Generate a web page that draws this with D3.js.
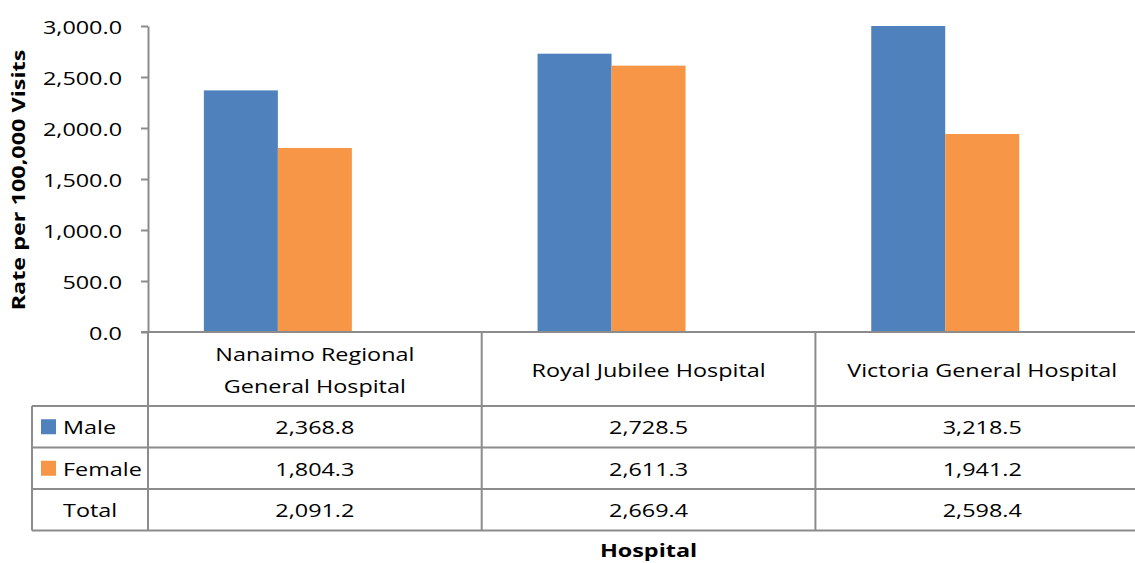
<!DOCTYPE html>
<html>
<head>
<meta charset="utf-8">
<script src="https://cdn.jsdelivr.net/npm/d3@7"></script>
<style>
  html, body { margin: 0; padding: 0; background: #fff; }
  svg { display: block; }
  text { font-family: "Open Sans", sans-serif; fill: #000; }
</style>
</head>
<body>
<svg id="chart" width="1135" height="563"></svg>
<script>
// ---- data ----
const categories = ["Nanaimo Regional General Hospital", "Royal Jubilee Hospital", "Victoria General Hospital"];
const categoryLines = [["Nanaimo Regional", "General Hospital"], ["Royal Jubilee Hospital"], ["Victoria General Hospital"]];
const seriesNames = ["Male", "Female", "Total"];
const maleValues = [2368.8, 2728.5, 3218.5];
const femaleValues = [1804.3, 2611.3, 1941.2];
const totalValues = [2091.2, 2669.4, 2598.4];
const yTicks = [0, 500, 1000, 1500, 2000, 2500, 3000];
const yTitle = "Rate per 100,000 Visits";
const xTitle = "Hospital";

// ---- style / layout ----
const colors = { Male: "#4F81BD", Female: "#F79646" };
const lineColor = "#8c8c8c";
const lineW = 2;
const SX = 1.3;           // horizontal text stretch
const fontSize = 18;

const plotLeft = 148, plotTop = 26, plotBottom = 332;
const step = 333.7;
const tableLeft = 32;
const rowEdges = [332, 406, 447.5, 489, 530.5]; // header, Male, Female, Total

const svg = d3.select("#chart");

const x0 = d3.scaleBand().domain(categories)
  .range([plotLeft, plotLeft + step * categories.length])
  .paddingInner(0.3347).paddingOuter(0.1674);
const xCol = d3.scaleBand().domain(categories)
  .range([plotLeft, plotLeft + step * categories.length]);
const x1 = d3.scaleBand().domain(seriesNames).range([0, x0.bandwidth()]);
const y = d3.scaleLinear().domain([0, 3000]).range([plotBottom, plotTop]).clamp(true);

const seriesData = { Male: maleValues, Female: femaleValues, Total: totalValues };

// ---- bars (Total series has no fill in the chart) ----
["Male", "Female"].forEach(s => {
  svg.append("g").selectAll("rect")
    .data(categories.map((c, i) => ({ c, v: seriesData[s][i] })))
    .join("rect")
    .attr("x", d => x0(d.c) + x1(s))
    .attr("width", x1.bandwidth())
    .attr("y", d => y(d.v))
    .attr("height", d => y(0) - y(d.v))
    .attr("fill", colors[s]);
});

// ---- y axis ----
const yAxis = svg.append("g")
  .attr("transform", `translate(${plotLeft},0)`)
  .call(d3.axisLeft(y).tickValues(yTicks).tickSize(7).tickSizeOuter(0)
    .tickFormat(d3.format(",.1f")));
yAxis.select(".domain").attr("stroke", lineColor).attr("stroke-width", lineW);
yAxis.selectAll(".tick line").attr("stroke", lineColor).attr("stroke-width", lineW);
yAxis.selectAll(".tick text")
  .attr("x", 0).attr("dy", "0.41em")
  .attr("transform", `translate(-26,0) scale(${SX},1)`)
  .style("font-size", fontSize + "px").style("font-family", "'Open Sans', sans-serif")
  .attr("fill", "#000");

// y axis line continues through the table
svg.append("line")
  .attr("x1", plotLeft).attr("x2", plotLeft)
  .attr("y1", plotBottom).attr("y2", rowEdges[4])
  .attr("stroke", lineColor).attr("stroke-width", lineW);

// x axis line / table lines
const rightEdge = 1135;
svg.append("line")
  .attr("x1", plotLeft - 7).attr("x2", rightEdge)
  .attr("y1", plotBottom).attr("y2", plotBottom)
  .attr("stroke", lineColor).attr("stroke-width", lineW);
rowEdges.slice(1).forEach(ry => {
  svg.append("line")
    .attr("x1", tableLeft).attr("x2", rightEdge)
    .attr("y1", ry).attr("y2", ry)
    .attr("stroke", lineColor).attr("stroke-width", lineW);
});
svg.append("line")
  .attr("x1", tableLeft).attr("x2", tableLeft)
  .attr("y1", rowEdges[1]).attr("y2", rowEdges[4])
  .attr("stroke", lineColor).attr("stroke-width", lineW);
categories.slice(1).forEach(c => {
  svg.append("line")
    .attr("x1", xCol(c)).attr("x2", xCol(c))
    .attr("y1", plotBottom).attr("y2", rowEdges[4])
    .attr("stroke", lineColor).attr("stroke-width", lineW);
});

// ---- header category labels ----
categories.forEach((c, i) => {
  const cx = xCol(c) + xCol.bandwidth() / 2;
  const lines = categoryLines[i];
  const baseMid = 377;
  const lh = 31.5;
  lines.forEach((t, j) => {
    const by = baseMid + (j - (lines.length - 1) / 2) * lh;
    svg.append("text")
      .attr("text-anchor", "middle")
      .attr("transform", `translate(${cx},${by}) scale(${SX},1)`)
      .style("font-size", fontSize + "px")
      .text(t);
  });
});

// ---- table rows ----
const fmt = d3.format(",.1f");
seriesNames.forEach((s, r) => {
  const top = rowEdges[r + 1], bot = rowEdges[r + 2];
  const mid = (top + bot) / 2;
  const base = mid + 7.5;
  if (colors[s]) {
    svg.append("rect")
      .attr("x", 41).attr("y", mid - 7.5)
      .attr("width", 15).attr("height", 15)
      .attr("fill", colors[s]);
  }
  svg.append("text")
    .attr("transform", `translate(63,${base}) scale(${SX},1)`)
    .style("font-size", fontSize + "px")
    .text(s);
  categories.forEach((c, i) => {
    svg.append("text")
      .attr("text-anchor", "middle")
      .attr("transform", `translate(${xCol(c) + xCol.bandwidth() / 2},${base}) scale(${SX},1)`)
      .style("font-size", fontSize + "px")
      .text(fmt(seriesData[s][i]));
  });
});

// ---- axis titles ----
svg.append("text")
  .attr("text-anchor", "middle")
  .attr("transform", `translate(25,180) rotate(-90) scale(${SX},1)`)
  .style("font-size", fontSize + "px").style("font-weight", "bold")
  .text(yTitle);
svg.append("text")
  .attr("text-anchor", "middle")
  .attr("transform", `translate(${xCol(categories[1]) + xCol.bandwidth() / 2},557) scale(${SX},1)`)
  .style("font-size", fontSize + "px").style("font-weight", "bold")
  .text(xTitle);
</script>
</body>
</html>
